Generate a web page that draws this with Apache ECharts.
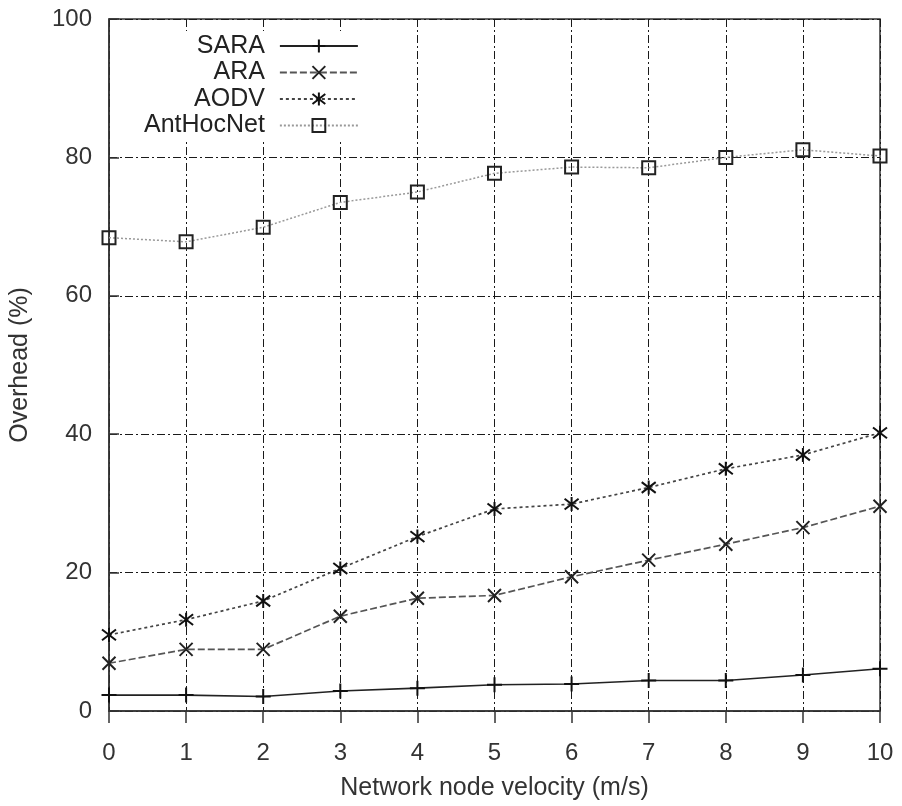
<!DOCTYPE html>
<html>
<head>
<meta charset="utf-8">
<script src="https://cdn.jsdelivr.net/npm/echarts@6/dist/echarts.min.js"></script>
<style>html,body{margin:0;padding:0;background:#fff}#c{width:902px;height:806px}</style>
</head>
<body>
<div id="c"></div>
<script>
const velocities = [0,1,2,3,4,5,6,7,8,9,10];
const saraValues = [2.3,2.3,2.1,2.9,3.3,3.8,3.9,4.4,4.4,5.2,6.1];
const araValues = [6.9,8.9,8.9,13.7,16.3,16.7,19.4,21.8,24.1,26.5,29.6];
const aodvValues = [11.0,13.2,15.9,20.6,25.2,29.2,29.9,32.3,35.0,37.0,40.2];
const anthocnetValues = [68.4,67.8,69.9,73.5,75.0,77.7,78.6,78.5,80.0,81.1,80.2];
const seriesNames = ['SARA','ARA','AODV','AntHocNet'];

const FONT = '"Liberation Sans", Arial, Helvetica, sans-serif';
const pts = v => velocities.map((x,i)=>[x,v[i]]);
const plusSym = 'path://M0,-1L0,1M-1,0L1,0';
const crossSym = 'path://M-1,-1L1,1M-1,1L1,-1';
const starSym = 'path://M-1,-1L1,1M-1,1L1,-1M0,-1.3L0,1.3';
const gridLine = {color:'#1a1a1a', width:1, type:[8,3,2,3]};

const chart = echarts.init(document.getElementById('c'));
chart.setOption({
  animation:false,
  backgroundColor:'#fff',
  grid:{left:108,right:22,top:19,bottom:94,show:true,borderColor:'#333',borderWidth:1.5,containLabel:false},
  legend:{
    orient:'vertical', left:140, top:31, align:'right',
    itemWidth:78, itemHeight:16, itemGap:0.5,
    backgroundColor:'#fff', padding:[2,4,2,4],
    textStyle:{fontFamily:FONT,fontSize:25,color:'#222',lineHeight:26,padding:[0,10,0,0]},
    data:seriesNames
  },
  xAxis:{
    type:'value', min:0, max:10, interval:1,
    name:'Network node velocity (m/s)', nameLocation:'middle', nameGap:65,
    nameTextStyle:{fontFamily:FONT,fontSize:25,color:'#333'},
    axisLine:{show:true,lineStyle:{color:'#333',width:1.5}},
    axisTick:{show:true,inside:false,length:12,lineStyle:{color:'#333',width:1.5}},
    axisLabel:{fontFamily:FONT,fontSize:24,color:'#333',margin:30},
    splitLine:{show:true,lineStyle:gridLine}
  },
  yAxis:{
    type:'value', min:0, max:100, interval:20,
    name:'Overhead (%)', nameLocation:'middle', nameGap:76,
    nameTextStyle:{fontFamily:FONT,fontSize:25,color:'#333'},
    axisLine:{show:true,lineStyle:{color:'#333',width:1.5}},
    axisTick:{show:true,inside:true,length:10,lineStyle:{color:'#333',width:1.5}},
    axisLabel:{fontFamily:FONT,fontSize:24,color:'#333',margin:17},
    splitLine:{show:true,lineStyle:gridLine}
  },
  series:[
    {name:'SARA',type:'line',data:pts(saraValues),symbol:plusSym,symbolSize:15,
     lineStyle:{color:'#222',width:1.6,type:'solid'},
     itemStyle:{color:'rgba(0,0,0,0)',borderColor:'#111',borderWidth:2}},
    {name:'ARA',type:'line',data:pts(araValues),symbol:crossSym,symbolSize:13,
     lineStyle:{color:'#555',width:1.7,type:[7,3]},
     itemStyle:{color:'rgba(0,0,0,0)',borderColor:'#222',borderWidth:2}},
    {name:'AODV',type:'line',data:pts(aodvValues),symbol:starSym,symbolSize:14,
     lineStyle:{color:'#444',width:1.7,type:[3,3]},
     itemStyle:{color:'rgba(0,0,0,0)',borderColor:'#111',borderWidth:2}},
    {name:'AntHocNet',type:'line',data:pts(anthocnetValues),symbol:'rect',symbolSize:13,
     lineStyle:{color:'#999',width:1.5,type:[2,2]},
     itemStyle:{color:'rgba(0,0,0,0)',borderColor:'#222',borderWidth:2}}
  ]
});
</script>
</body>
</html>
